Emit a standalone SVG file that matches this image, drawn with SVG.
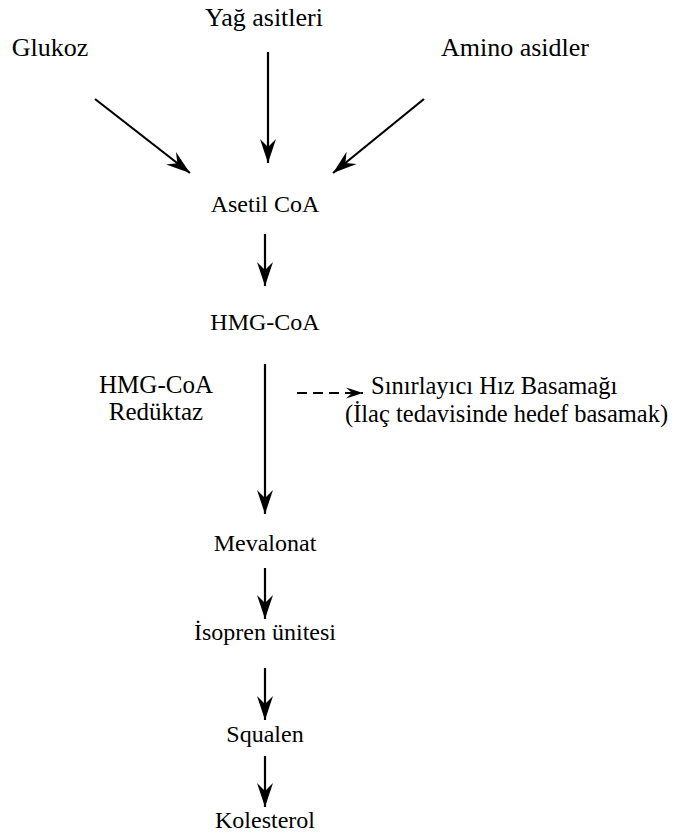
<svg xmlns="http://www.w3.org/2000/svg" width="683" height="835" viewBox="0 0 683 835">
<style>
text{font-family:"Liberation Serif","Times New Roman",serif;fill:#000}
.c{text-anchor:middle;font-size:24px}
.t{text-anchor:middle;font-size:26px}
.r{font-size:24.5px}
.ln{stroke:#000;stroke-width:2.2;fill:none}
.d{stroke:#000;stroke-width:2.2;fill:none;stroke-dasharray:10,6}
</style>
<defs>
<marker id="ah" viewBox="-24 -9 26 18" refX="0" refY="0" markerWidth="26" markerHeight="18" markerUnits="userSpaceOnUse" orient="auto">
<path d="M0,0 L-24,-8 L-16,0 L-24,8 Z" fill="#000"/>
</marker>
<marker id="ah2" viewBox="-18 -7 20 14" refX="0" refY="0" markerWidth="20" markerHeight="14" markerUnits="userSpaceOnUse" orient="auto">
<path d="M0,0 L-17,-5.5 L-11,0 L-17,5.5 Z" fill="#000"/>
</marker>
</defs>
<g id="connectors">
<line class="ln" x1="95" y1="99" x2="190" y2="173" marker-end="url(#ah)"/>
<line class="ln" x1="268" y1="52" x2="268" y2="163" marker-end="url(#ah)"/>
<line class="ln" x1="424" y1="99" x2="333" y2="173" marker-end="url(#ah)"/>
<line class="ln" x1="265" y1="234" x2="265" y2="286" marker-end="url(#ah)"/>
<line class="ln" x1="265" y1="364" x2="265" y2="514" marker-end="url(#ah)"/>
<line class="d" x1="297" y1="393" x2="363" y2="393" marker-end="url(#ah2)"/>
<line class="ln" x1="265" y1="568" x2="265" y2="619" marker-end="url(#ah)"/>
<line class="ln" x1="265" y1="668" x2="265" y2="720" marker-end="url(#ah)"/>
<line class="ln" x1="265" y1="756" x2="265" y2="807" marker-end="url(#ah)"/>
</g>
<g id="glukoz"><text x="50" y="56" class="t">Glukoz</text></g>
<g id="yag"><text x="264" y="26" class="t">Yağ asitleri</text></g>
<g id="amino"><text x="515" y="56" class="t">Amino asidler</text></g>
<g id="asetil"><text x="265" y="212" class="c">Asetil CoA</text></g>
<g id="hmgcoa"><text x="265" y="330" class="c">HMG-CoA</text></g>
<g id="reduktaz"><text x="156" y="393" class="c" style="font-size:25px">HMG-CoA</text><text x="156" y="420" class="c" style="font-size:25px">Redüktaz</text></g>
<g id="sinir"><text x="371" y="394" class="r">Sınırlayıcı Hız Basamağı</text><text x="345" y="422" class="r">(İlaç tedavisinde hedef basamak)</text></g>
<g id="mevalonat"><text x="265" y="551" class="c">Mevalonat</text></g>
<g id="isopren"><text x="265" y="640" class="c">İsopren ünitesi</text></g>
<g id="squalen"><text x="265" y="742" class="c">Squalen</text></g>
<g id="kolesterol"><text x="265" y="828" class="c">Kolesterol</text></g>
</svg>
